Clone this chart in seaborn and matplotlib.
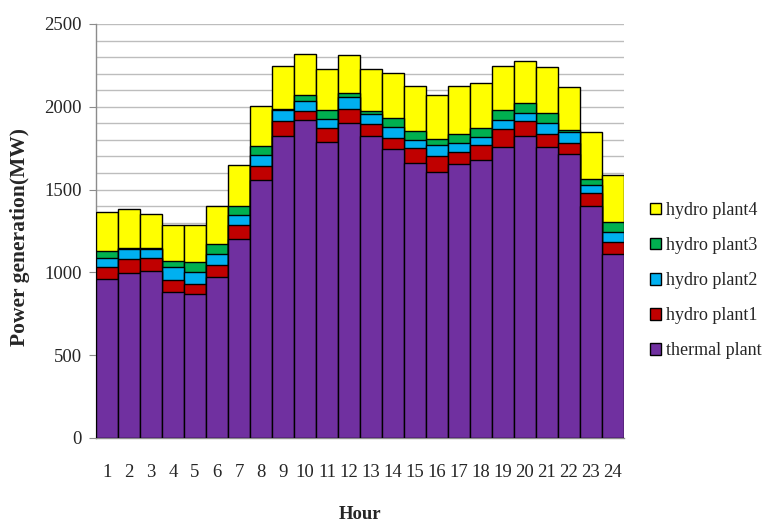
import pandas as pd
import matplotlib.pyplot as plt
import seaborn as sns
from matplotlib.ticker import MultipleLocator

# Hourly generation (MW)
hours = list(range(1, 25))
thermal = [962, 995, 1010, 880, 870, 970, 1202, 1560, 1826, 1920, 1786, 1900,
           1826, 1745, 1663, 1605, 1655, 1679, 1759, 1826, 1759, 1713, 1403, 1111]
hydro1 = [69, 86, 75, 74, 60, 75, 84, 85, 88, 57, 84, 87,
          70, 69, 87, 100, 74, 90, 105, 88, 77, 67, 78, 74]
hydro2 = [58, 63, 57, 77, 74, 66, 61, 64, 68, 60, 55, 74,
          61, 66, 50, 64, 51, 51, 56, 51, 68, 70, 47, 61]
hydro3 = [42, 6, 5, 40, 61, 59, 56, 54, 5, 34, 56, 21,
          16, 51, 56, 37, 56, 50, 61, 60, 57, 10, 34, 60]
hydro4 = [232, 235, 207, 215, 221, 233, 246, 242, 259, 248, 247, 231,
          255, 271, 272, 265, 292, 272, 265, 254, 281, 258, 284, 282]

series_names = ["thermal plant", "hydro plant1", "hydro plant2", "hydro plant3", "hydro plant4"]
colors = ["#7030A0", "#C00000", "#00B0F0", "#00B050", "#FFFF00"]

df = pd.DataFrame({"Hour": hours, "thermal plant": thermal, "hydro plant1": hydro1,
                   "hydro plant2": hydro2, "hydro plant3": hydro3, "hydro plant4": hydro4})

# cumulative tops so we can layer bars from the tallest down
cum = df[series_names].cumsum(axis=1)
cum["Hour"] = df["Hour"].astype(str)

sns.set_style("white")
plt.rcParams["font.family"] = ["Liberation Serif", "DejaVu Serif"]

fig = plt.figure(figsize=(7.65, 5.23), dpi=100)
ax = fig.add_axes([96 / 765, 1 - 438 / 523, 528 / 765, 414 / 523])

for name, color in reversed(list(zip(series_names, colors))):
    sns.barplot(data=cum, x="Hour", y=name, color=color, saturation=1, width=1.0,
                edgecolor="black", linewidth=1.0, label=name, ax=ax, zorder=3)

ax.set_xlim(-0.5, 23.5)
ax.set_ylim(0, 2500)
ax.yaxis.set_major_locator(MultipleLocator(500))
ax.yaxis.set_minor_locator(MultipleLocator(100))
ax.grid(axis="y", which="both", color="#BDBDBD", linewidth=1.0, zorder=0)
ax.grid(axis="x", visible=False)
ax.set_axisbelow(True)

for side in ["top", "right"]:
    ax.spines[side].set_visible(False)
for side in ["left", "bottom"]:
    ax.spines[side].set_color("#8C8C8C")
    ax.spines[side].set_linewidth(1.0)

ax.tick_params(axis="y", which="major", left=True, length=5, color="#8C8C8C",
               labelsize=13.5, pad=5)
ax.tick_params(axis="y", which="minor", left=False)
ax.tick_params(axis="x", bottom=False, labelsize=13.5, pad=15)

ax.set_xlabel("Hour", fontsize=13.5, fontweight="bold")
ax.xaxis.set_label_coords(0.5, -0.165)
ax.set_ylabel("Power generation(MW)", fontsize=15.5, fontweight="bold")
ax.yaxis.set_label_coords(-0.125, 0.485)

ax.legend(loc="center left", bbox_to_anchor=(1.035, 0.38), frameon=False,
          fontsize=13, handlelength=0.6, handleheight=0.6, handletextpad=0.3,
          labelspacing=1.0, borderaxespad=0)

fig.savefig("out.png", dpi=100)
print("Figure saved: out.png")
plt.close(fig)
